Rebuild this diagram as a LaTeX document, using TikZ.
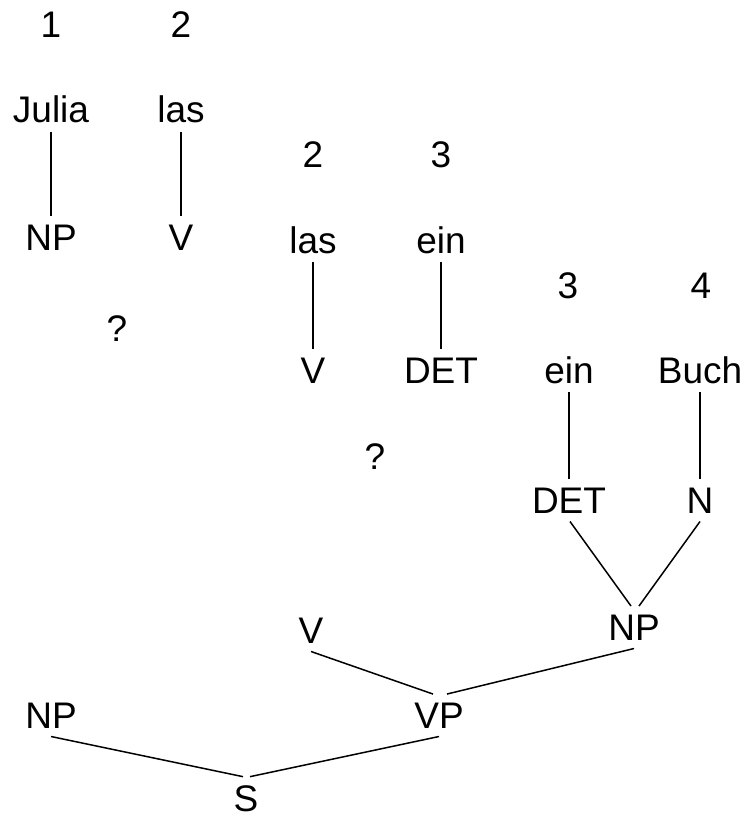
\documentclass[tikz,border=0pt]{standalone}
\usepackage{fontspec}
\setmainfont{Liberation Sans}
\begin{document}
\begin{tikzpicture}[x=1pt,y=-1pt,
  lbl/.style={anchor=base,inner sep=0pt,outer sep=8.5pt,font=\fontsize{37}{40}\selectfont},
  stem/.style={line width=2.6pt},
  branch/.style={line width=1.5pt}]
\useasboundingbox (0,0) rectangle (749,818);

% first chart column: words 1 and 2
\node[lbl] (i1) at (51,38) {1};
\node[lbl] (i2) at (181,38) {2};
\node[lbl] (julia) at (51,123) {Julia};
\node[lbl] (las1) at (181,123) {las};
\node[lbl] (np1) at (51,250) {NP};
\node[lbl] (v1) at (181,250) {V};
\node[lbl] (q1) at (117,341) {?};

% second chart column: words 2 and 3
\node[lbl] (j2) at (313,168) {2};
\node[lbl] (j3) at (441,168) {3};
\node[lbl] (las2) at (313,253) {las};
\node[lbl] (ein1) at (441,253) {ein};
\node[lbl] (v2) at (313,383) {V};
\node[lbl] (det1) at (441,383) {DET};
\node[lbl] (q2) at (375,469) {?};

% third chart column: words 3 and 4
\node[lbl] (k3) at (568,298) {3};
\node[lbl] (k4) at (701,298) {4};
\node[lbl] (ein2) at (569,383) {ein};
\node[lbl] (buch) at (700,383) {Buch};
\node[lbl] (det2) at (569,513) {DET};
\node[lbl] (n) at (700,513) {N};

% full sentence tree
\node[lbl] (np3) at (634,640) {NP};
\node[lbl] (v3) at (311,643) {V};
\node[lbl] (vp) at (439,728) {VP};
\node[lbl] (np4) at (51,728) {NP};
\node[lbl] (s) at (246,811) {S};

% lexical stems
\draw[stem] (julia.south) -- (np1.north);
\draw[stem] (las1.south) -- (v1.north);
\draw[stem] (las2.south) -- (v2.north);
\draw[stem] (ein1.south) -- (det1.north);
\draw[stem] (ein2.south) -- (det2.north);
\draw[stem] (buch.south) -- (n.north);

% phrase branches
\draw[branch] ([xshift=1pt]det2.south) -- ([xshift=-3pt]np3.north);
\draw[branch] (n.south) -- ([xshift=5pt]np3.north);
\draw[branch] (np3.south) -- ([xshift=8pt]vp.north);
\draw[branch] (v3.south) -- ([xshift=-6pt]vp.north);
\draw[branch] (np4.south) -- ([xshift=-3pt]s.north);
\draw[branch] (vp.south) -- ([xshift=4pt]s.north);
\end{tikzpicture}
\end{document}
